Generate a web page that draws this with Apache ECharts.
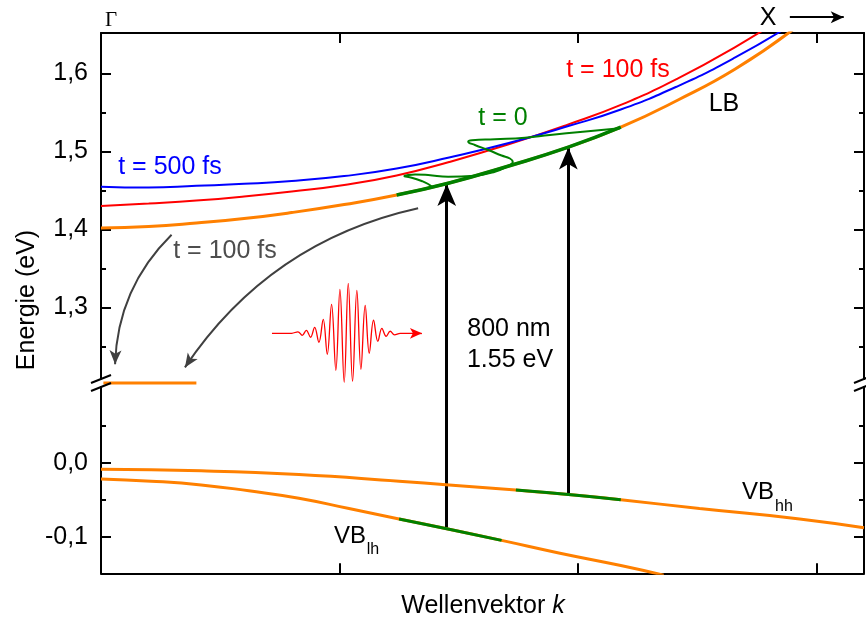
<!DOCTYPE html>
<html>
<head>
<meta charset="utf-8">
<script src="https://cdn.jsdelivr.net/npm/echarts@6/dist/echarts.min.js"></script>
<style>
  html, body { margin: 0; padding: 0; background: #fff; }
  #chart { width: 866px; height: 619px; }
</style>
</head>
<body>
<div id="chart"></div>
<script>
// ---------- band structure data (k in arbitrary units, E in eV) ----------
// conduction band (LB) at t = 0
const kLB = [0, 0.2, 0.4, 0.6, 0.8, 1.02, 1.24, 1.46, 1.71, 1.96, 2.18, 2.42, 2.66, 2.9];
const eLB = [1.4017, 1.4036, 1.4081, 1.4138, 1.4215, 1.4318, 1.4440, 1.4594, 1.4812, 1.5053, 1.5309, 1.5658, 1.6055, 1.6555];
// renormalised conduction band, t = 100 fs
const kT100 = [0, 0.2, 0.4, 0.6, 0.8, 1.02, 1.24, 1.46, 1.71, 1.96, 2.18, 2.42, 2.66, 2.9];
const eT100 = [1.4299, 1.4331, 1.4369, 1.4421, 1.4485, 1.4568, 1.4690, 1.4863, 1.5090, 1.5346, 1.5596, 1.5935, 1.6337, 1.6792];
// renormalised conduction band, t = 500 fs
const kT500 = [0, 0.2, 0.4, 0.6, 0.8, 1.02, 1.24, 1.46, 1.71, 1.96, 2.18, 2.42, 2.66, 2.9];
const eT500 = [1.4546, 1.4535, 1.4558, 1.4583, 1.4619, 1.4683, 1.4779, 1.4921, 1.5106, 1.5324, 1.5536, 1.5837, 1.6203, 1.6632];
// heavy-hole valence band
const kVBhh = [0, 0.42, 0.83, 1.25, 1.46, 1.74, 1.96, 2.18, 2.51, 2.93, 3.2];
const eVBhh = [-0.009, -0.011, -0.016, -0.025, -0.030, -0.037, -0.043, -0.050, -0.062, -0.076, -0.088];
// light-hole valence band
const kVBlh = [0, 0.21, 0.42, 0.62, 0.83, 1.04, 1.25, 1.46, 1.68, 1.92, 2.18, 2.36];
const eVBlh = [-0.022, -0.025, -0.030, -0.038, -0.048, -0.062, -0.076, -0.090, -0.105, -0.122, -0.139, -0.152];
// index ranges of the optically excited (green) band segments
const lbExcited = [6, 10];
const hhExcited = [5, 7];
const lhExcited = [6, 8];
// electron wave packet outline at t = 0
const kPacket = [1.387, 1.372, 1.345, 1.303, 1.272, 1.288, 1.317, 1.372, 1.456, 1.568, 1.652, 1.707, 1.727, 1.715, 1.680, 1.624, 1.568, 1.540, 1.556, 1.652, 1.778, 1.883, 2.021, 2.176];
const ePacket = [1.4546, 1.4581, 1.4619, 1.4662, 1.4683, 1.4696, 1.4703, 1.4696, 1.4674, 1.4687, 1.4738, 1.4812, 1.4863, 1.4908, 1.4946, 1.5017, 1.5081, 1.5123, 1.5141, 1.5154, 1.5174, 1.5209, 1.5251, 1.5295];
// relaxed electrons at the band bottom
const kRelaxed = [0.01, 0.40];
const eRelaxed = [1.203, 1.203];
// optical transitions (800 nm / 1.55 eV pump)
const kPump = [1.45, 1.96];
const ePumpFrom = [-0.090, -0.043];
const ePumpTo = [1.458, 1.505];
const eBreakLow = 0.108;   // lower panel value at the axis break
const eBreakHigh = 1.203;  // upper panel value at the axis break
// relaxation arrows (start, end)
const relaxArrows = [
  [[0.296, 1.393], [0.059, 1.227]],
  [[1.330, 1.427], [0.352, 1.223]]
];
// laser pulse sketch
const kPulse = [0.717, 0.80, 0.826, 0.844, 0.861, 0.879, 0.896, 0.914, 0.932, 0.949, 0.967, 0.985, 1.002, 1.020, 1.037, 1.055, 1.073, 1.090, 1.108, 1.125, 1.143, 1.161, 1.178, 1.196, 1.213, 1.231, 1.255, 1.317];
const ePulse = [1.2667, 1.2667, 1.2686, 1.2641, 1.2705, 1.2616, 1.2744, 1.2552, 1.2846, 1.2398, 1.3039, 1.2193, 1.3231, 1.2039, 1.3308, 1.2052, 1.3218, 1.2205, 1.3026, 1.2411, 1.2834, 1.2564, 1.2731, 1.2629, 1.2693, 1.2648, 1.2667, 1.2667];
const pulseArrow = [[1.317, 1.2667], [1.346, 1.2667]];
// direction arrow towards X
const xArrow = [[2.889, 1.672], [3.115, 1.672]];

// axis ticks
const upperMajor = [1.3, 1.4, 1.5, 1.6];
const upperMinor = [1.25, 1.35, 1.45, 1.55];
const lowerMajor = [-0.1, 0.0];
const lowerMinor = [-0.05, 0.05];
const kTicks = [1, 2, 3];

// ---------- layout ----------
const G = { left: 101, right: 2, topU: 33, hU: 346, topL: 387, hL: 186.3 };
const U_MIN = 1.2081, U_MAX = 1.6517;
const L_MIN = -0.1495, L_MAX = 0.1023;
const FONT = "'Liberation Sans', Arial, sans-serif";
const FS = 25;
const ORANGE = '#ff8000', GREEN = '#008000', RED = '#ff0000', BLUE = '#0000ff', GRAY = '#404040';

const pair = (ks, es) => ks.map((k, i) => [k, es[i]]);
const fmt = v => (Math.abs(v) < 1e-9 ? 0 : v).toFixed(1).replace('.', ',');

function xAxisDef(grid, pos) {
  return {
    type: 'value', gridIndex: grid, min: 0, max: 3.2, position: pos,
    axisLine: { show: true, onZero: false, lineStyle: { color: '#000', width: 2 } },
    axisTick: { show: true, inside: true, length: 10, customValues: kTicks, lineStyle: { color: '#000', width: 2 } },
    axisLabel: { show: false }, splitLine: { show: false }
  };
}
function yAxisDef(grid, pos, min, max, ticks, len, labels, line) {
  return {
    type: 'value', gridIndex: grid, min, max, position: pos,
    axisLine: { show: line, onZero: false, lineStyle: { color: '#000', width: 2 } },
    axisTick: { show: true, inside: true, length: len, customValues: ticks, lineStyle: { color: '#000', width: 2 } },
    axisLabel: labels ? { show: true, customValues: ticks, formatter: fmt, fontSize: FS, fontFamily: FONT, color: '#000', margin: 13 } : { show: false },
    splitLine: { show: false }
  };
}

function lineSeries(name, data, color, width, xi, yi, extra) {
  return Object.assign({
    name, type: 'line', data, xAxisIndex: xi, yAxisIndex: yi,
    symbol: 'none', smooth: 0.5, lineStyle: { color, width }, itemStyle: { color },
    silent: true
  }, extra || {});
}
function linesSeries(name, coordsList, color, width, xi, yi, extra) {
  return Object.assign({
    name, type: 'lines', coordinateSystem: 'cartesian2d', xAxisIndex: xi, yAxisIndex: yi,
    data: coordsList.map(c => ({ coords: c })), clip: false, silent: true,
    lineStyle: { color, width, opacity: 1 }, symbol: ['none', 'none']
  }, extra || {});
}

const series = [
  lineSeries('t = 100 fs', pair(kT100, eT100), RED, 2, 0, 0),
  lineSeries('t = 500 fs', pair(kT500, eT500), BLUE, 2, 0, 0),
  lineSeries('LB', pair(kLB, eLB), ORANGE, 3, 0, 0),
  lineSeries('LB excited', pair(kLB, eLB).slice(lbExcited[0], lbExcited[1] + 1), GREEN, 3.5, 0, 0),
  lineSeries('t = 0', pair(kPacket, ePacket), GREEN, 2, 0, 0, { smooth: 0.5 }),
  lineSeries('relaxed', pair(kRelaxed, eRelaxed), ORANGE, 3, 0, 0, { smooth: false, clip: false }),
  lineSeries('VBhh', pair(kVBhh, eVBhh), ORANGE, 3, 1, 4),
  lineSeries('VBhh excited', pair(kVBhh, eVBhh).slice(hhExcited[0], hhExcited[1] + 1), GREEN, 3, 1, 4),
  lineSeries('VBlh', pair(kVBlh, eVBlh), ORANGE, 3, 1, 4),
  lineSeries('VBlh excited', pair(kVBlh, eVBlh).slice(lhExcited[0], lhExcited[1] + 1), GREEN, 3, 1, 4),
  lineSeries('pulse', pair(kPulse, ePulse), RED, 1.3, 0, 0, { smooth: 0.4, clip: false }),
  // pump transitions: shaft in the valence panel, arrow in the conduction panel
  linesSeries('pump low', kPump.map((k, i) => [[k, ePumpFrom[i]], [k, eBreakLow]]), '#000', 3, 1, 4),
  linesSeries('pump high', kPump.map((k, i) => [[k, eBreakHigh], [k, ePumpTo[i]]]), '#000', 3, 0, 0,
    { symbol: ['none', 'arrow'], symbolSize: [[14, 22], [14, 22]] }),
  linesSeries('relaxation', relaxArrows, GRAY, 2, 0, 0,
    { symbol: ['none', 'arrow'], symbolSize: [[9, 14], [9, 14]], lineStyle: { color: GRAY, width: 2, curveness: -0.2, opacity: 1 } }),
  linesSeries('pulse arrow', [pulseArrow], RED, 1.3, 0, 0,
    { symbol: ['none', 'arrow'], symbolSize: [[8, 12], [8, 12]] }),
  linesSeries('X arrow', [xArrow], '#000', 2, 0, 0,
    { symbol: ['none', 'arrow'], symbolSize: [[9, 13], [9, 13]] })
];

// axis-break marks on both energy axes
const breakMarks = [];
[G.left, 866 - G.right].forEach(x => {
  [G.topU + G.hU, G.topL].forEach(y => {
    breakMarks.push({
      type: 'line', z: 100, silent: true,
      shape: { x1: x - 10, y1: y + 4, x2: x + 10, y2: y - 4 },
      style: { stroke: '#000', lineWidth: 2 }
    });
  });
});

function label(text, x, y, color, size, extra) {
  return Object.assign({
    type: 'text', x, y, z: 100, silent: true,
    style: { text, fill: color, fontSize: size, fontFamily: FONT, align: 'center', verticalAlign: 'middle' }
  }, extra || {});
}

const texts = [
  label('Γ', 111, 20, '#000', 21, { style: { text: 'Γ', fill: '#000', fontSize: 21, fontFamily: "'Liberation Serif', 'Times New Roman', serif", align: 'center', verticalAlign: 'middle' } }),
  label('X', 768, 18, '#000', FS),
  label('t = 500 fs', 170, 167, BLUE, FS),
  label('t = 100 fs', 618, 70, RED, FS),
  label('LB', 724, 104, '#000', FS),
  label('t = 0', 503, 118, GREEN, FS),
  label('t = 100 fs', 225, 251, '#4d4d4d', FS),
  label('800 nm', 509, 329, '#000', FS),
  label('1.55 eV', 510, 360, '#000', FS),
  label('VB', 758, 492, '#000', 24),
  label('hh', 784, 507, '#000', 16),
  label('VB', 350, 536, '#000', 24),
  label('lh', 373, 550, '#000', 16),
  label('Energie (eV)', 27, 300, '#000', FS, { rotation: Math.PI / 2 }),
  {
    type: 'text', x: 483, y: 606, z: 100, silent: true,
    style: {
      text: 'Wellenvektor {i|k}', fill: '#000', fontSize: FS, fontFamily: FONT, align: 'center', verticalAlign: 'middle',
      rich: { i: { fontStyle: 'italic', fontSize: FS, fontFamily: FONT, fill: '#000' } }
    }
  }
];

const option = {
  animation: false,
  backgroundColor: '#fff',
  grid: [
    { left: G.left, right: G.right, top: G.topU, height: G.hU },
    { left: G.left, right: G.right, top: G.topL, height: G.hL }
  ],
  xAxis: [xAxisDef(0, 'top'), xAxisDef(1, 'bottom')],
  yAxis: [
    yAxisDef(0, 'left', U_MIN, U_MAX, upperMajor, 10, true, true),
    yAxisDef(0, 'right', U_MIN, U_MAX, upperMajor, 10, false, true),
    yAxisDef(0, 'left', U_MIN, U_MAX, upperMinor, 5, false, false),
    yAxisDef(0, 'right', U_MIN, U_MAX, upperMinor, 5, false, false),
    yAxisDef(1, 'left', L_MIN, L_MAX, lowerMajor, 10, true, true),
    yAxisDef(1, 'right', L_MIN, L_MAX, lowerMajor, 10, false, true),
    yAxisDef(1, 'left', L_MIN, L_MAX, lowerMinor, 5, false, false),
    yAxisDef(1, 'right', L_MIN, L_MAX, lowerMinor, 5, false, false)
  ],
  series,
  graphic: breakMarks.concat(texts)
};

const chart = echarts.init(document.getElementById('chart'), null, { renderer: 'canvas' });
chart.setOption(option);
</script>
</body>
</html>
